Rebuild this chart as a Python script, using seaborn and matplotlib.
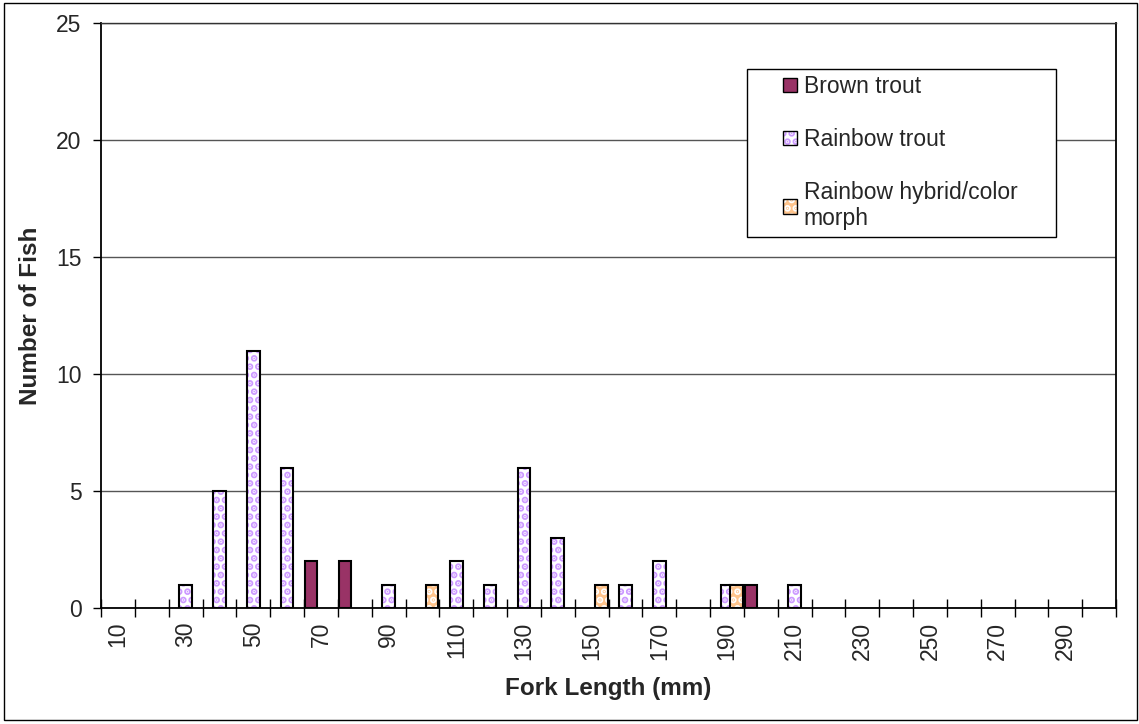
import matplotlib
matplotlib.use("Agg")
import matplotlib.pyplot as plt
import seaborn as sns
from matplotlib.patches import Patch, Rectangle

# fork length classes (mm) shown on the x axis
lengths = list(range(10, 310, 10))
labels = [str(v) for v in lengths]
# Excel only prints every other class label
tick_text = [s if i % 2 == 0 else "" for i, s in enumerate(labels)]

# counts per class
brown_len = [70, 80, 200]
brown_n = [2, 2, 1]
rainbow_len = [30, 40, 50, 60, 90, 110, 120, 130, 140, 160, 170, 190, 210]
rainbow_n = [1, 5, 11, 6, 1, 2, 1, 6, 3, 1, 2, 1, 1]
hybrid_len = [100, 150, 190]
hybrid_n = [1, 1, 1]

series_names = ["Brown trout", "Rainbow trout", "Rainbow hybrid/color\nmorph"]

sns.set_theme(style="white")
plt.rcParams['font.family'] = ['Liberation Sans', 'DejaVu Sans']
plt.rcParams['hatch.linewidth'] = 3.5

fig = plt.figure(figsize=(11.39, 7.24), dpi=100)
ax = fig.add_axes([101 / 1139, 116 / 724, 1015 / 1139, 585 / 724])


def draw(xs, ys, shift, face, hatch=None, hatch_col="none"):
    n0 = len(ax.patches)
    sns.barplot(x=[str(v) for v in xs], y=ys, order=labels, color=face,
                width=0.37, errorbar=None, saturation=1, hatch=hatch,
                edgecolor=hatch_col, linewidth=0, ax=ax)
    new = list(ax.patches[n0:])
    for p in new:
        p.set_x(p.get_x() + shift)
        # black outline on top of the hatched fill
        ax.add_patch(Rectangle(p.get_xy(), p.get_width(), p.get_height(),
                               fill=False, ec="black", lw=1.5, zorder=p.get_zorder()))


brown_col = "#993366"
dot_col = "#CC99FF"
orange_col = "#FFC48C"

draw(brown_len, brown_n, -0.29, brown_col)
draw(rainbow_len, rainbow_n, 0.0, "white", "..", dot_col)
draw(hybrid_len, hybrid_n, 0.29, orange_col, "..", "white")

ax.set_xlim(-0.5, len(lengths) - 0.5)
ax.set_ylim(0, 25)
ax.set_yticks(range(0, 30, 5))
ax.set_xticks([i - 0.5 for i in range(len(lengths) + 1)])
ax.set_xticklabels([])
ax.set_xticks(range(len(lengths)), minor=True)
ax.set_xticklabels(tick_text, minor=True, rotation=90)
ax.tick_params(axis='x', which='major', direction='inout', length=13, width=1, color='black', bottom=True)
ax.tick_params(axis='x', which='minor', length=0, labelsize=16.5, pad=10, bottom=True)
ax.tick_params(axis='y', direction='out', length=6, width=1, color='black', labelsize=16.5, pad=8, left=True)

ax.set_axisbelow(True)
ax.yaxis.grid(True, color='#555555', lw=1)
ax.xaxis.grid(False)
for side in ["left", "bottom", "right"]:
    ax.spines[side].set_color("black")
    ax.spines[side].set_linewidth(1.3)
ax.spines["top"].set_color("#333333")
ax.spines["top"].set_linewidth(1)

ax.set_xlabel("Fork Length (mm)", fontsize=17.5, fontweight="bold", labelpad=12)
ax.set_ylabel("Number of Fish", fontsize=17.5, fontweight="bold", labelpad=10)

# legend box (Excel style, wide padding)
ax.add_patch(Rectangle((0.636, 0.634), 0.305, 0.287, transform=ax.transAxes,
                       facecolor="white", edgecolor="black", lw=1, zorder=5))
handles = [
    (Patch(facecolor=brown_col, edgecolor="black", lw=1),),
    (Patch(facecolor="white", edgecolor=dot_col, hatch="..", lw=0),
     Patch(fill=False, edgecolor="black", lw=1)),
    (Patch(facecolor=orange_col, edgecolor="white", hatch="..", lw=0),
     Patch(fill=False, edgecolor="black", lw=1)),
]
leg = ax.legend(handles, series_names, loc="upper left", bbox_to_anchor=(0.672, 0.911),
                frameon=False, fontsize=16.5, borderpad=0, borderaxespad=0,
                handlelength=0.6, handleheight=0.6, handletextpad=0.3,
                labelspacing=1.3)
leg.set_zorder(6)

# outer chart border
fig.patches.append(Rectangle((4 / 1139, 4 / 724), 1133 / 1139, 717 / 724,
                             transform=fig.transFigure, fill=False, ec="black", lw=1))

fig.savefig("out.png", dpi=100)
